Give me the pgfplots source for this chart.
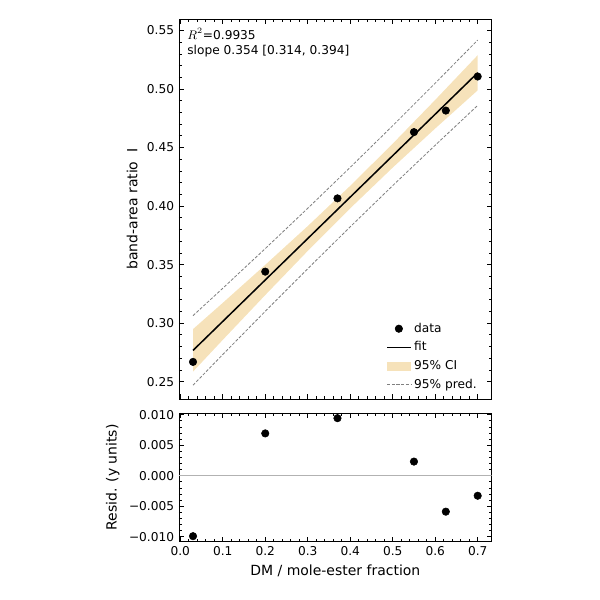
\documentclass[border=0pt]{standalone}
\usepackage{fontspec}
\setmainfont{DejaVu Sans}
\usepackage{pgfplots}
\pgfplotsset{compat=1.18}
\definecolor{ciband}{RGB}{246,226,186}

% fit: y = 0.2661 + 0.354 x, bands at t(0.975,4)
\pgfplotstableread{
x     cilo    cihi    pilo    pihi
0.03  0.2586  0.2949  0.2470  0.3064
0.10  0.2857  0.3173  0.2732  0.3298
0.20  0.3240  0.3498  0.3101  0.3637
0.30  0.3617  0.3829  0.3465  0.3981
0.40  0.3981  0.4173  0.3823  0.4331
0.50  0.4329  0.4533  0.4175  0.4687
0.60  0.4663  0.4907  0.4520  0.5050
0.70  0.4989  0.5289  0.4860  0.5418
}\bands
\usepackage{pgfplotstable}

\pgfplotsset{
  common/.style={
    scale only axis, width=226pt,
    xmin=-0.003, xmax=0.733,
    tick align=inside,
    major tick length=3.6pt, minor tick length=2pt,
    every tick/.style={black, line width=0.6pt},
    axis line style={line width=0.6pt},
    xtick={0,0.1,0.2,0.3,0.4,0.5,0.6,0.7},
    minor x tick num=4,
    minor y tick num=4,
    scaled y ticks=false,
    tick label style={font=\fontsize{8.8}{10}\selectfont},
    label style={font=\fontsize{10.1}{12}\selectfont},
  },
}

\begin{document}
\begin{tikzpicture}
\path[use as bounding box] (-129.36pt,-145.26pt) rectangle (304.26pt,288.36pt);

\begin{axis}[common, name=top, at={(0pt,0pt)}, anchor=south west,
  height=274.6pt,
  ymin=0.2352, ymax=0.5598,
  xticklabels={},
  ytick={0.25,0.30,0.35,0.40,0.45,0.50,0.55},
  yticklabels={0.25,0.30,0.35,0.40,0.45,0.50,0.55},
  ylabel={band-area ratio\ \ I},
  legend style={at={(0.975,0.008)}, anchor=south east, draw=none, fill=none,
    font=\fontsize{8.8}{10}\selectfont, row sep=1.3pt, cells={anchor=west}},
  legend cell align=left,
]
\addplot[fill=ciband, draw=none, forget plot] coordinates {
 (0.03,0.2949) (0.10,0.3173) (0.20,0.3498) (0.30,0.3829) (0.40,0.4173)
 (0.50,0.4533) (0.60,0.4907) (0.70,0.5289)
 (0.70,0.4989) (0.60,0.4663) (0.50,0.4329) (0.40,0.3981) (0.30,0.3617)
 (0.20,0.3240) (0.10,0.2857) (0.03,0.2586)} -- cycle;
\addplot[gray, line width=0.6pt, dash pattern=on 2.2pt off 1.2pt, forget plot] table[x=x,y=pihi] {\bands};
\addplot[gray, line width=0.6pt, dash pattern=on 2.2pt off 1.2pt, forget plot] table[x=x,y=pilo] {\bands};
\addplot[black, line width=1.1pt, forget plot] coordinates {(0.03,0.2767) (0.70,0.5139)};
\addplot[only marks, mark=*, mark size=2.7pt, black, forget plot] coordinates {
 (0.03,0.2669) (0.20,0.3440) (0.37,0.4066) (0.55,0.4632) (0.625,0.4816) (0.70,0.5107)};

\addlegendimage{only marks, mark=*, mark size=2.7pt, black}
\addlegendentry{data}
\addlegendimage{black, line width=1.1pt}
\addlegendentry{fit}
\addlegendimage{area legend, fill=ciband, draw=ciband}
\addlegendentry{95\% CI}
\addlegendimage{gray, line width=0.6pt, dash pattern=on 2.2pt off 1.2pt}
\addlegendentry{95\% pred.}

\node[anchor=north west, align=left, inner sep=0pt,
  font=\fontsize{8.8}{11.5}\selectfont] at (rel axis cs:0.026,0.976)
  {$R^2$=0.9935\\slope 0.354 [0.314, 0.394]};
\end{axis}

\begin{axis}[common, name=bot, at={(0pt,-10.1pt)}, anchor=north west,
  height=93pt,
  ymin=-0.0108, ymax=0.0103,
  xticklabels={0.0,0.1,0.2,0.3,0.4,0.5,0.6,0.7},
  ytick={-0.01,-0.005,0,0.005,0.01},
  yticklabels={−0.010,−0.005,0.000,0.005,0.010},
  xlabel={DM / mole-ester fraction},
  ylabel={Resid. (y units)},
]
\addplot[gray!60, line width=0.9pt] coordinates {(-0.003,0) (0.733,0)};
\addplot[only marks, mark=*, mark size=2.7pt, black] coordinates {
 (0.03,-0.0099) (0.20,0.00695) (0.37,0.00945) (0.55,0.00233) (0.625,-0.00588) (0.70,-0.00327)};
\end{axis}
\end{tikzpicture}
\end{document}
